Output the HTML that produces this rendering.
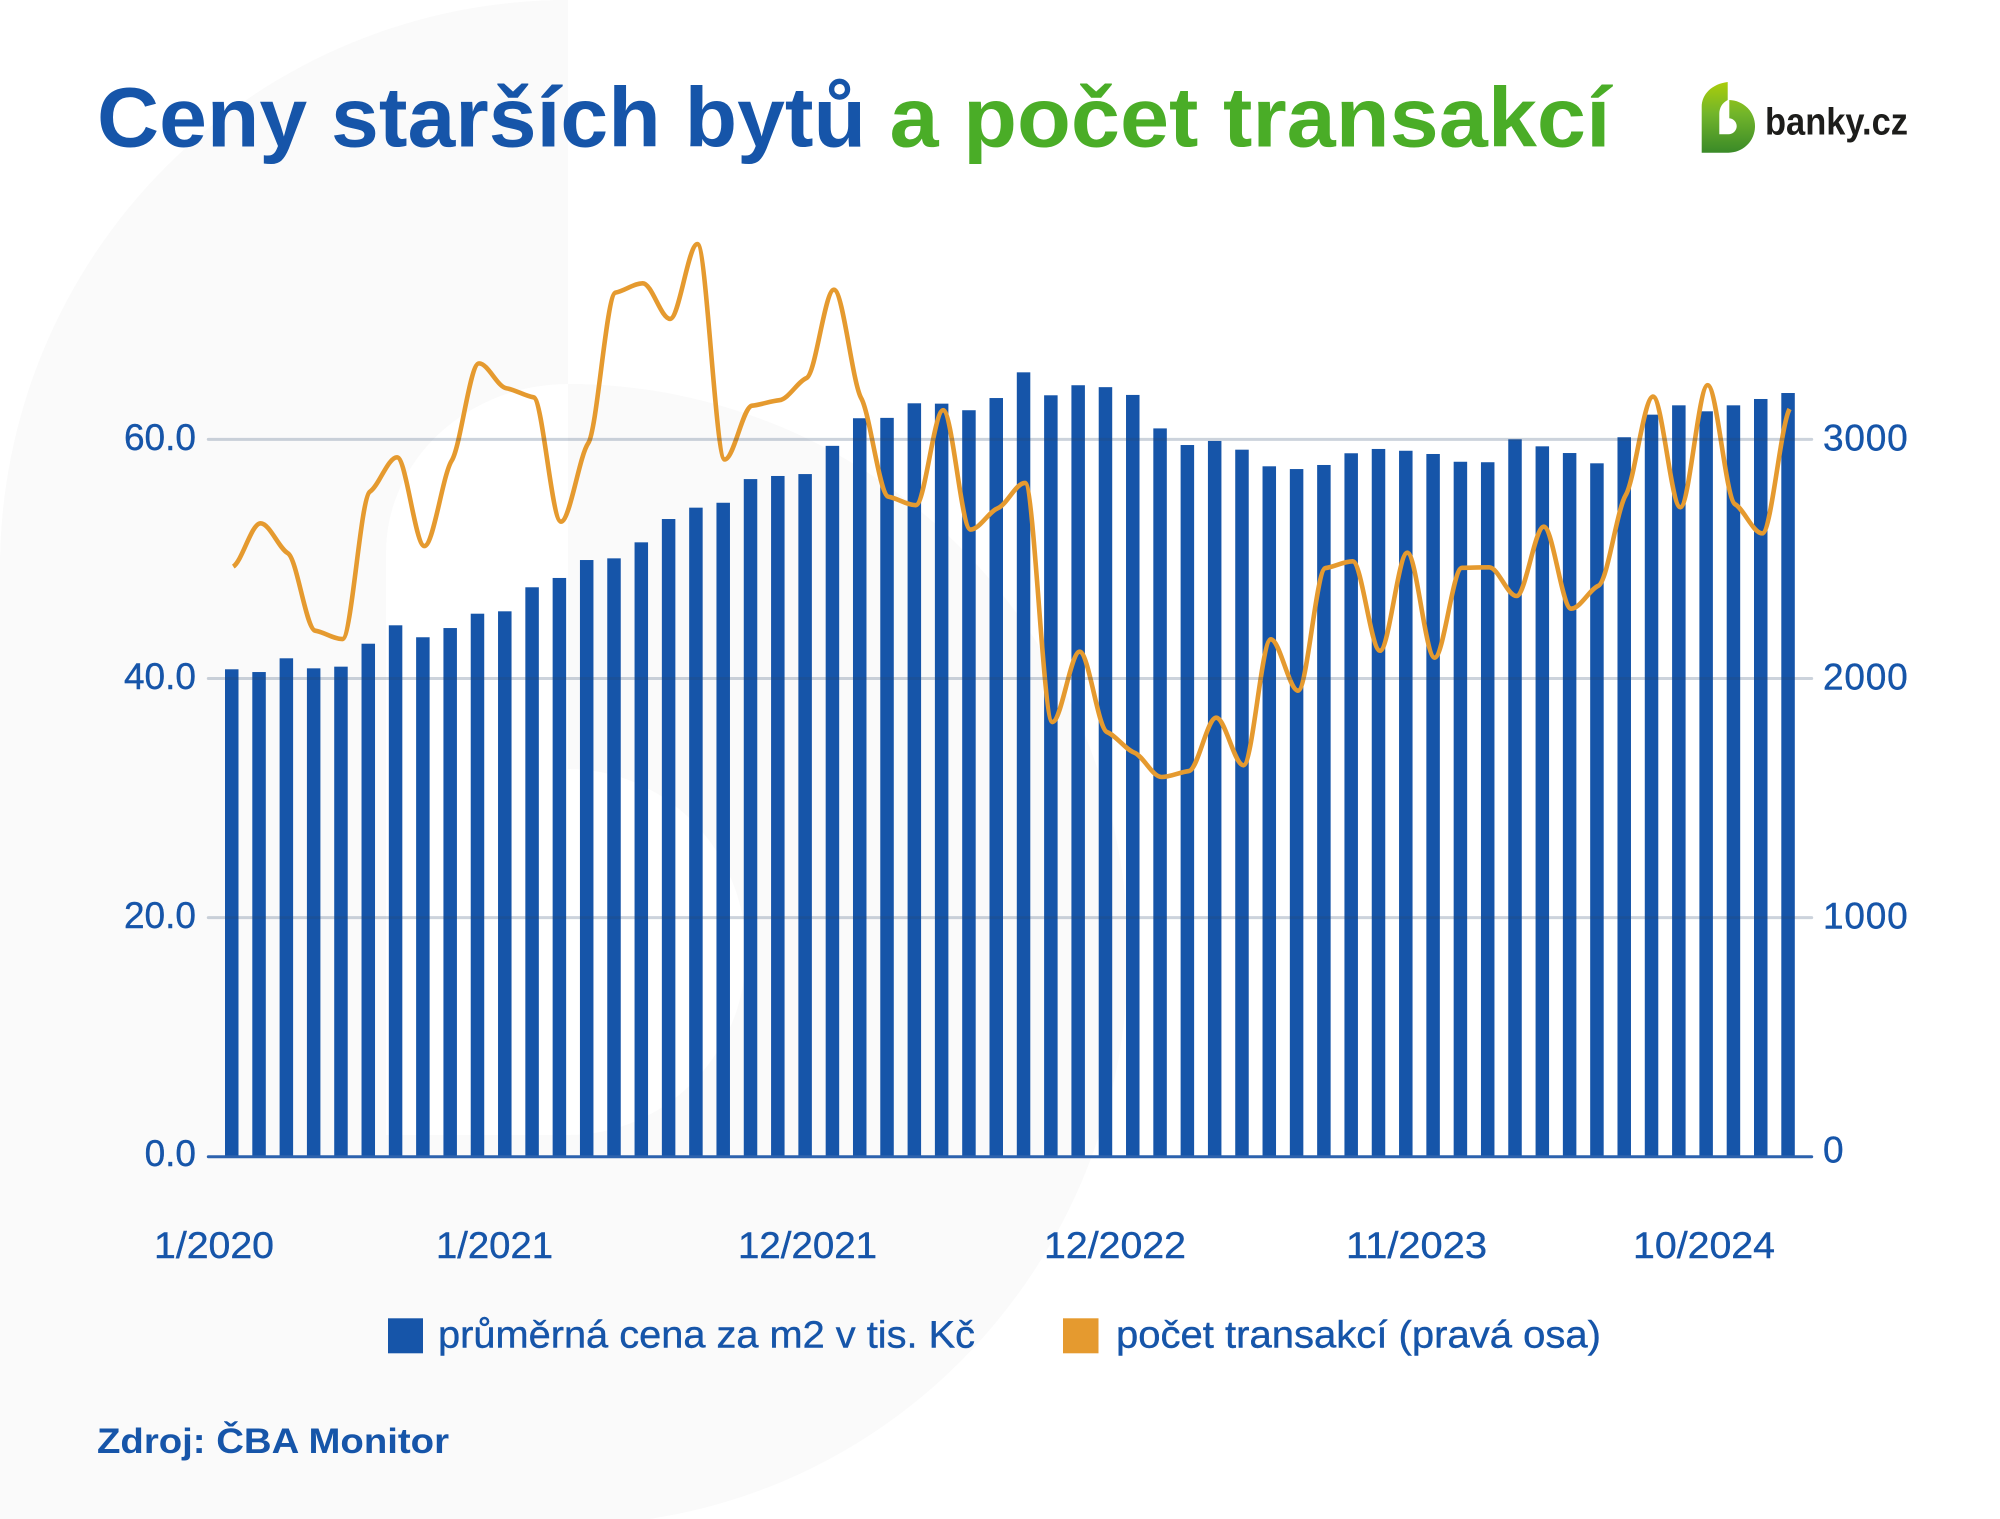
<!DOCTYPE html>
<html lang="cs">
<head>
<meta charset="utf-8">
<title>Ceny starších bytů a počet transakcí</title>
<style>
html,body{margin:0;padding:0;background:#fff;}
svg{display:block;}
text{font-family:"Liberation Sans",sans-serif;fill:#1655a9;}
.tick{font-size:37px;stroke:#1655a9;stroke-width:0.4px;}
.legend-text{font-size:38px;stroke:#1655a9;stroke-width:0.4px;}
</style>
</head>
<body>
<svg id="chart" xmlns="http://www.w3.org/2000/svg" width="2000" height="1519" viewBox="0 0 2000 1519">
  <defs>
    <linearGradient id="logoGrad" x1="0" y1="0" x2="0" y2="1">
      <stop offset="0" stop-color="#aacd0a"/>
      <stop offset="0.45" stop-color="#72b52a"/>
      <stop offset="1" stop-color="#3a8a28"/>
    </linearGradient>
  </defs>
  <rect width="2000" height="1519" fill="#ffffff"/>
  <path fill="#fafafa" d="M568,0 A568,568 0 0 0 0,568 L0,1525 L568,1525 A560,570.5 0 0 0 1128,954.5 A560,570.5 0 0 0 568,384 Z"/>
  <path fill="#ffffff" d="M568,384 A182,169 0 0 0 386,553 L386,1135 L568,1135 A178,183 0 0 0 746,952 A178,183 0 0 0 568,769 Z"/>

  <text x="97" y="146.7" font-size="84" font-weight="700" textLength="769" lengthAdjust="spacingAndGlyphs">Ceny starších bytů</text>
  <text x="889.5" y="146.7" font-size="84" font-weight="700" textLength="721" lengthAdjust="spacingAndGlyphs" style="fill:#4aad27">a počet transakcí</text>

  <g>
    <path fill="url(#logoGrad)" d="M1727.7,82 C1712,84 1701.7,94 1701.7,107 L1701.7,152.7 L1728,152.7 A26.5,26.5 0 0 0 1755,126 A26.5,26 0 0 0 1729.3,100 L1727.7,100 Z"/>
    <path fill="#ffffff" d="M1727.7,100 C1722,103 1719.3,108 1719.3,114 L1719.3,134.3 L1728.3,134.3 A8.4,8.2 0 0 0 1736.7,126 A8,8 0 0 0 1729.3,118.3 L1729.3,100 Z"/>
    <text x="1765" y="134.3" font-size="38" font-weight="700" textLength="143" lengthAdjust="spacingAndGlyphs" style="fill:#1d1d1b">banky.cz</text>
  </g>

  <g id="bars"></g>
  <g id="line"></g>
  <g id="grid"></g>
  <g id="leftAxis"></g>
  <g id="rightAxis"></g>

  <g>
    <text class="tick" x="154" y="1258" textLength="120" lengthAdjust="spacingAndGlyphs">1/2020</text>
    <text class="tick" x="436" y="1258" textLength="117" lengthAdjust="spacingAndGlyphs">1/2021</text>
    <text class="tick" x="738" y="1258" textLength="139" lengthAdjust="spacingAndGlyphs">12/2021</text>
    <text class="tick" x="1044" y="1258" textLength="142" lengthAdjust="spacingAndGlyphs">12/2022</text>
    <text class="tick" x="1346" y="1258" textLength="141" lengthAdjust="spacingAndGlyphs">11/2023</text>
    <text class="tick" x="1633" y="1258" textLength="142" lengthAdjust="spacingAndGlyphs">10/2024</text>
  </g>

  <g>
    <g>
      <rect x="388" y="1318.3" width="35" height="35" fill="#1655a9"/>
      <text class="legend-text" x="438" y="1347.3" textLength="537" lengthAdjust="spacingAndGlyphs">průměrná cena za m2 v tis. Kč</text>
    </g>
    <g>
      <rect x="1063" y="1318.3" width="35.5" height="35" fill="#e59a2f"/>
      <text class="legend-text" x="1116" y="1347.3" textLength="485" lengthAdjust="spacingAndGlyphs">počet transakcí (pravá osa)</text>
    </g>
  </g>

  <text x="97" y="1453" font-size="35" font-weight="700" textLength="352" lengthAdjust="spacingAndGlyphs">Zdroj: ČBA Monitor</text>
</svg>
<script>
const categories = [
  "1/2020","2/2020","3/2020","4/2020","5/2020","6/2020","7/2020","8/2020","9/2020","10/2020","11/2020","12/2020",
  "1/2021","2/2021","3/2021","4/2021","5/2021","6/2021","7/2021","8/2021","9/2021","10/2021","11/2021","12/2021",
  "1/2022","2/2022","3/2022","4/2022","5/2022","6/2022","7/2022","8/2022","9/2022","10/2022","11/2022","12/2022",
  "1/2023","2/2023","3/2023","4/2023","5/2023","6/2023","7/2023","8/2023","9/2023","10/2023","11/2023","12/2023",
  "1/2024","2/2024","3/2024","4/2024","5/2024","6/2024","7/2024","8/2024","9/2024","10/2024"
];
const priceValues = [
  40.77,40.54,41.69,40.85,40.99,42.91,44.45,43.45,44.22,45.42,45.62,47.63,
  48.41,49.91,50.05,51.39,53.34,54.29,54.70,56.68,56.94,57.10,59.46,61.77,
  61.80,63.02,62.99,62.44,63.46,65.61,63.69,64.53,64.37,63.72,60.92,59.53,
  59.87,59.14,57.75,57.52,57.86,58.84,59.20,59.05,58.78,58.13,58.09,60.01,
  59.42,58.86,58.00,60.18,62.07,62.85,62.35,62.85,63.38,63.88
];
const transactionValues = [
  2468,2649,2524,2200,2165,2781,2925,2554,2911,3318,3214,3176,
  2656,2984,3614,3653,3504,3817,2916,3141,3164,3257,3626,3172,
  2760,2725,3122,2623,2712,2818,1818,2112,1776,1690,1588,1613,
  1836,1637,2164,1949,2462,2490,2116,2526,2087,2463,2465,2345,
  2635,2292,2388,2767,3179,2716,3227,2729,2607,3127
];
const leftTicks = [0,20,40,60];
const leftTickLabels = ["0.0","20.0","40.0","60.0"];
const rightTicks = [0,1000,2000,3000];
const rightTickLabels = ["0","1000","2000","3000"];

const SVGNS = "http://www.w3.org/2000/svg";
const plotBottom = 1156.7;
const plotTop = 439.4;
const plotLeft = 208.3;
const plotRight = 1811.7;
const firstBarLeft = 225;
const lastBarLeft = 1781.3;
const barWidth = 13.5;
const lineOffset = 1.5;
const tangentScale = 0.25;

function yLeft(v){ return plotBottom - v * (plotBottom - plotTop) / 60; }
function yRight(v){ return plotBottom - v * (plotBottom - plotTop) / 3000; }
function xBar(i){ return firstBarLeft + i * (lastBarLeft - firstBarLeft) / (categories.length - 1); }
function xLine(i){ return xBar(i) + barWidth / 2 + lineOffset; }

function monotonePath(pts){
  const n = pts.length;
  const t = new Array(n).fill(0);
  const sign = function(v){ return v < 0 ? -1 : 1; };
  for (let i = 1; i < n - 1; i++) {
    const h0 = pts[i][0] - pts[i-1][0];
    const h1 = pts[i+1][0] - pts[i][0];
    const s0 = (pts[i][1] - pts[i-1][1]) / h0;
    const s1 = (pts[i+1][1] - pts[i][1]) / h1;
    t[i] = tangentScale * (sign(s0) + sign(s1)) * Math.min(Math.abs(s0), Math.abs(s1)) || 0;
  }
  t[0] = 0.4 * (pts[1][1] - pts[0][1]) / (pts[1][0] - pts[0][0]);
  t[n-1] = 0.4 * (pts[n-1][1] - pts[n-2][1]) / (pts[n-1][0] - pts[n-2][0]);
  let d = "M" + pts[0][0].toFixed(2) + "," + pts[0][1].toFixed(2);
  for (let i = 0; i < n - 1; i++) {
    const dx = (pts[i+1][0] - pts[i][0]) / 3;
    d += " C" + (pts[i][0] + dx).toFixed(2) + "," + (pts[i][1] + dx * t[i]).toFixed(2) +
         " " + (pts[i+1][0] - dx).toFixed(2) + "," + (pts[i+1][1] - dx * t[i+1]).toFixed(2) +
         " " + pts[i+1][0].toFixed(2) + "," + pts[i+1][1].toFixed(2);
  }
  return d;
}

const barsGroup = document.getElementById("bars");
priceValues.forEach(function(v, i){
  const r = document.createElementNS(SVGNS, "rect");
  
  
  r.setAttribute("x", xBar(i).toFixed(2));
  r.setAttribute("y", yLeft(v).toFixed(2));
  r.setAttribute("width", barWidth);
  r.setAttribute("height", (plotBottom - yLeft(v)).toFixed(2));
  r.setAttribute("fill", "#1655a9");
  barsGroup.appendChild(r);
});

const linePoints = transactionValues.map(function(v, i){ return [xLine(i), yRight(v)]; });
const linePath = document.createElementNS(SVGNS, "path");


linePath.setAttribute("d", monotonePath(linePoints));
linePath.setAttribute("fill", "none");
linePath.setAttribute("stroke", "#e59a2f");
linePath.setAttribute("stroke-width", "4.6");
linePath.setAttribute("stroke-linejoin", "round");
document.getElementById("line").appendChild(linePath);

const gridGroup = document.getElementById("grid");
leftTicks.forEach(function(t){
  const l = document.createElementNS(SVGNS, "line");
  if (t === 0) {
    
  } else {
    
  }
  
  l.setAttribute("x1", plotLeft);
  l.setAttribute("x2", plotRight);
  l.setAttribute("y1", yLeft(t).toFixed(2));
  l.setAttribute("y2", yLeft(t).toFixed(2));
  l.setAttribute("stroke-linecap", "round");
  l.setAttribute("stroke-width", "3");
  l.setAttribute("stroke", t === 0 ? "#2c62ae" : "rgba(40,70,110,0.24)");
  gridGroup.appendChild(l);
});

const leftGroup = document.getElementById("leftAxis");
leftTicks.forEach(function(t, i){
  const e = document.createElementNS(SVGNS, "text");
  
  
  e.setAttribute("class", "tick");
  e.setAttribute("x", "196");
  e.setAttribute("y", (yLeft(t) + (t === 0 ? 9.5 : 10.5)).toFixed(2));
  e.setAttribute("text-anchor", "end");
  e.textContent = leftTickLabels[i];
  leftGroup.appendChild(e);
});

const rightGroup = document.getElementById("rightAxis");
rightTicks.forEach(function(t, i){
  const e = document.createElementNS(SVGNS, "text");
  
  
  e.setAttribute("class", "tick");
  e.setAttribute("x", "1823");
  e.setAttribute("y", (yRight(t) + (t === 0 ? 6 : 11)).toFixed(2));
  e.setAttribute("letter-spacing", "0.8");
  e.textContent = rightTickLabels[i];
  rightGroup.appendChild(e);
});
</script>
</body>
</html>
